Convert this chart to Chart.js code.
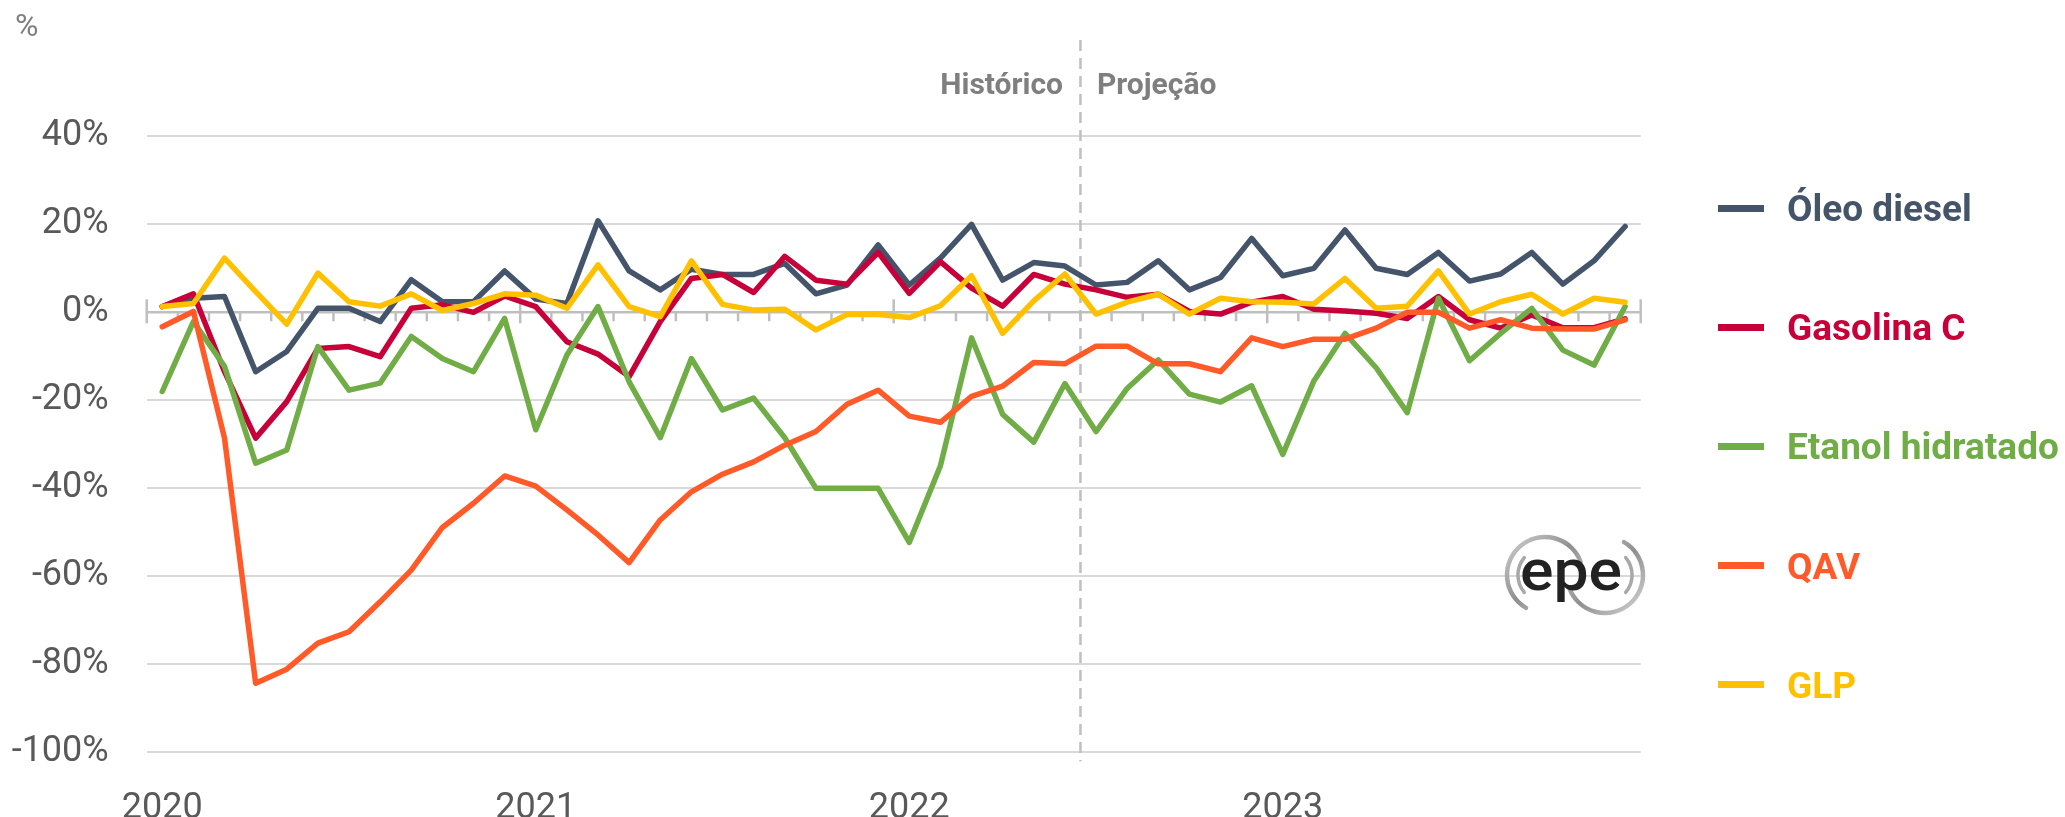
<!DOCTYPE html>
<html>
<head>
<meta charset="utf-8">
<script src="https://cdn.jsdelivr.net/npm/chart.js@4.4.1/dist/chart.umd.min.js"></script>
<style>
html,body{margin:0;padding:0;background:#fff;}
#wrap{position:relative;width:2065px;height:817px;overflow:hidden;font-family:Roboto,"DejaVu Sans",sans-serif;background:#fff;}
#c{position:absolute;left:0;top:0;}
.t{position:absolute;white-space:nowrap;line-height:1;transform:translateY(-50%);}
.sw{position:absolute;width:46px;height:7px;}
.leg{font-weight:700;font-size:37px;left:1787px;}
.phase{font-weight:700;font-size:30px;color:#7f7f7f;top:84px;}
</style>
</head>
<body>
<div id="wrap">
<canvas id="c" width="2065" height="817"></canvas>
<div class="t" style="left:15px;top:25px;font-size:32px;color:#7f7f7f;">%</div>
<div class="t phase" style="right:1002px;">Histórico</div>
<div class="t phase" style="left:1097px;">Projeção</div>
<div id="legend"></div>
<svg width="160" height="95" viewBox="0 0 160 95" style="position:absolute;left:1493px;top:528px">
  <defs>
    <linearGradient id="g1" x1="0" y1="0" x2="1" y2="1">
      <stop offset="0" stop-color="#cfcfcf"/>
      <stop offset="0.5" stop-color="#8f8f8f"/>
      <stop offset="1" stop-color="#d4d4d4"/>
    </linearGradient>
  </defs>
  <path d="M33,79.9 A38,38 0 1 1 87.7,34" fill="none" stroke="url(#g1)" stroke-width="4.5" stroke-linecap="round"/>
  <path d="M76.3,60 A38,38 0 1 0 131,14.1" fill="none" stroke="url(#g1)" stroke-width="4.5" stroke-linecap="round"/>
  <path d="M31.3,64.4 A27,27 0 0 1 31.3,29.6" fill="none" stroke="#a8a8a8" stroke-width="3.5" stroke-linecap="round"/>
  <path d="M132.7,64.4 A27,27 0 0 0 132.7,29.6" fill="none" stroke="#a8a8a8" stroke-width="3.5" stroke-linecap="round"/>
  <text x="27" y="62" font-family="Roboto, sans-serif" font-weight="500" font-size="58" fill="#222" textLength="102" lengthAdjust="spacingAndGlyphs">epe</text>
</svg>
</div>
<script>
// ---- data ----
const years = ['2020', '2021', '2022', '2023'];
const monthNames = ['jan','fev','mar','abr','mai','jun','jul','ago','set','out','nov','dez'];
const categories = [];
years.forEach(y => monthNames.forEach(m => categories.push(m + '/' + y)));

const oleoDiesel = [
  1.3, 3.2, 3.6, -13.5, -8.9, 0.9, 0.9, -2.1, 7.4, 2.4, 2.4, 9.4,
  3.0, 2.0, 20.8, 9.4, 5.1, 9.8, 8.6, 8.6, 11.1, 4.2, 6.2, 15.3,
  6.2, 12.3, 20.0, 7.3, 11.3, 10.5, 6.2, 6.8, 11.7, 5.1, 7.9, 16.8,
  8.3, 10.0, 18.7, 10.0, 8.6, 13.6, 7.1, 8.7, 13.6, 6.4, 11.7, 19.5
];
const gasolinaC = [
  1.3, 4.2, -13.5, -28.6, -20.3, -8.2, -7.8, -10.1, 0.9, 1.7, 0.0, 3.7,
  1.3, -6.7, -9.5, -14.6, -2.1, 7.7, 8.6, 4.5, 12.7, 7.3, 6.4, 13.6,
  4.3, 11.5, 5.5, 1.4, 8.6, 6.4, 5.1, 3.4, 4.1, 0.2, -0.4, 2.3,
  3.6, 0.7, 0.3, -0.2, -1.4, 3.6, -1.7, -3.6, -0.6, -3.5, -3.5, -1.5
];
const etanolHidratado = [
  -18.0, -2.1, -12.3, -34.3, -31.3, -7.8, -17.7, -16.1, -5.5, -10.5, -13.5, -1.4,
  -26.7, -9.7, 1.3, -15.8, -28.5, -10.5, -22.2, -19.5, -28.5, -40.0, -40.0, -40.0,
  -52.3, -34.9, -5.8, -23.2, -29.5, -16.2, -27.1, -17.3, -10.8, -18.6, -20.4, -16.7,
  -32.3, -15.6, -4.8, -12.6, -22.8, 3.2, -11.0, -4.8, 0.9, -8.6, -12.0, 1.3
];
const qav = [
  -3.3, 0.2, -28.6, -84.3, -81.1, -75.2, -72.6, -65.8, -58.6, -48.9, -43.4, -37.2,
  -39.5, -44.9, -50.6, -56.9, -47.2, -40.8, -36.8, -34.0, -30.2, -27.1, -20.9, -17.7,
  -23.6, -25.0, -19.1, -16.8, -11.4, -11.7, -7.7, -7.7, -11.7, -11.7, -13.5, -5.8,
  -7.8, -6.1, -6.1, -3.6, 0.0, 0.0, -3.6, -1.7, -3.6, -3.8, -3.8, -1.7
];
const glp = [
  1.3, 2.0, 12.3, 4.7, -2.7, 8.9, 2.4, 1.4, 4.2, 0.4, 2.0, 4.2,
  3.9, 0.9, 10.8, 1.3, -1.0, 11.7, 1.8, 0.5, 0.7, -4.0, -0.5, -0.5,
  -1.2, 1.5, 8.3, -4.8, 2.6, 8.7, -0.4, 2.3, 4.1, -0.4, 3.2, 2.4,
  2.3, 1.9, 7.7, 0.9, 1.4, 9.4, -0.4, 2.4, 4.1, -0.4, 3.2, 2.3
];
const seriesNames = ['Óleo diesel', 'Gasolina C', 'Etanol hidratado', 'QAV', 'GLP'];
const seriesColors = ['#44546A', '#C8003A', '#70AD47', '#FF5A28', '#FFC000'];
const seriesData = [oleoDiesel, gasolinaC, etanolHidratado, qav, glp];
const lastHistoricIndex = 29; // jun/2022
const yMin = -100, yMax = 40, yStep = 20;

// ---- legend (HTML) ----
const legendTop = 208, legendGap = 119.2;
const legend = document.getElementById('legend');
seriesNames.forEach((n, i) => {
  const yc = legendTop + i * legendGap;
  const sw = document.createElement('div');
  sw.className = 'sw';
  sw.style.left = '1718px';
  sw.style.top = (yc - 3.5) + 'px';
  sw.style.background = seriesColors[i];
  legend.appendChild(sw);
  const tx = document.createElement('div');
  tx.className = 't leg';
  tx.style.top = yc + 'px';
  tx.style.color = seriesColors[i];
  tx.textContent = n;
  legend.appendChild(tx);
});

// ---- plugin: zero axis with ticks + historic/projection divider ----
const decorPlugin = {
  id: 'decor',
  beforeDatasetsDraw(chart) {
    const { ctx, scales: { x, y } } = chart;
    const y0 = y.getPixelForValue(0);
    ctx.save();
    const xd = x.getPixelForValue(lastHistoricIndex + 0.5);
    ctx.strokeStyle = '#bfbfbf';
    ctx.lineWidth = 2.5;
    ctx.setLineDash([11, 7]);
    ctx.beginPath();
    ctx.moveTo(xd, 40);
    ctx.lineTo(xd, y.getPixelForValue(yMin) + 9);
    ctx.stroke();
    ctx.setLineDash([]);
    ctx.beginPath();
    ctx.moveTo(x.left, y0);
    ctx.lineTo(x.right, y0);
    ctx.stroke();
    for (let k = 0; k <= categories.length; k++) {
      const px = x.getPixelForValue(k - 0.5);
      const big = k % 12 === 0;
      ctx.beginPath();
      ctx.moveTo(px, big ? y0 - 13 : y0);
      ctx.lineTo(px, big ? y0 + 11 : y0 + 9);
      ctx.stroke();
    }
    ctx.restore();
  }
};

const tickFont = { family: 'Roboto', size: 36 };
new Chart(document.getElementById('c'), {
  type: 'line',
  data: {
    labels: categories,
    datasets: seriesData.map((d, i) => ({
      label: seriesNames[i],
      data: d,
      borderColor: seriesColors[i],
      backgroundColor: seriesColors[i],
      borderWidth: 5.5,
      pointRadius: 0,
      tension: 0,
      borderJoinStyle: 'round',
      borderCapStyle: 'round',
      fill: false,
      order: seriesData.length - 1 - i
    }))
  },
  options: {
    responsive: false,
    animation: false,
    devicePixelRatio: 1,
    layout: { padding: { top: 136.3, right: 424.3, bottom: 0, left: 0 } },
    plugins: { legend: { display: false }, tooltip: { enabled: false } },
    scales: {
      x: {
        type: 'category',
        offset: true,
        grid: { display: false, offset: true },
        border: { display: false },
        ticks: {
          autoSkip: false, maxRotation: 0, minRotation: 0, padding: 27,
          color: '#595959', font: tickFont,
          callback: (v, i) => (i % 12 === 0 ? years[i / 12] : '')
        },
        afterFit(s) { s.height = 64.7; }
      },
      y: {
        min: yMin, max: yMax,
        ticks: {
          stepSize: yStep, padding: 38, color: '#595959', font: tickFont,
          callback: v => v + '%'
        },
        grid: {
          drawTicks: false,
          lineWidth: 2,
          color: c => (c.tick && c.tick.value === 0 ? 'rgba(0,0,0,0)' : '#d9d9d9')
        },
        border: { display: false },
        afterFit(s) { s.width = 146.7; }
      }
    }
  },
  plugins: [decorPlugin]
});
</script>
</body>
</html>
